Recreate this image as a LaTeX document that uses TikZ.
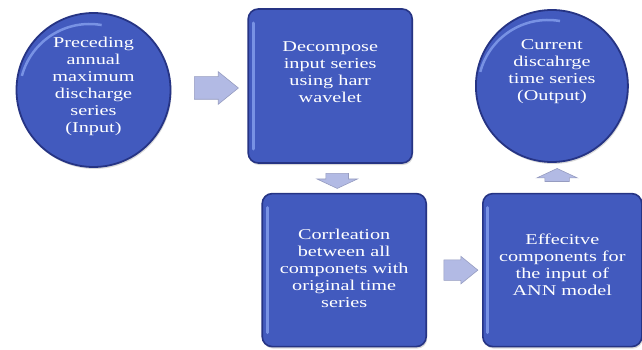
\documentclass[tikz,border=0pt]{standalone}
\usepackage{fontspec}
\setmainfont[FakeStretch=1.35]{Liberation Serif}
\usetikzlibrary{positioning,calc,shapes.arrows,shadows}
\definecolor{boxblue}{RGB}{66,90,190}
\definecolor{boxedge}{RGB}{38,52,132}
\definecolor{boxlight}{RGB}{120,146,228}
\definecolor{arrowfill}{RGB}{178,186,228}
\definecolor{arrowedge}{RGB}{150,156,192}

\begin{document}
\begin{tikzpicture}[x=1pt,y=1pt,node distance = 0pt and 0pt,
    stepbox/.style={rectangle,rounded corners=10pt,minimum width=164pt,minimum height=154pt,inner sep=0pt,
      fill=boxblue,draw=boxedge,line width=1.6pt,
      drop shadow={opacity=0.3,shadow xshift=1pt,shadow yshift=-2pt},
      path picture={\draw[boxlight,line width=3pt,line cap=round]
        ([xshift=5pt,yshift=-14pt]path picture bounding box.north west)
        -- ([xshift=5pt,yshift=14pt]path picture bounding box.south west);}},
    ball/.style={circle,minimum size=154pt,inner sep=0pt,
      fill=boxblue,draw=boxedge,line width=1.8pt,
      drop shadow={opacity=0.3,shadow xshift=1pt,shadow yshift=-2pt},
      path picture={\draw[boxlight,line width=2.5pt]
        ([xshift=-4pt,yshift=-4pt]path picture bounding box.center) ++(165:70pt) arc (165:80:70pt);}},
    celltext/.style={text=white,align=center,font=\fontsize{15}{17}\selectfont},
    blockarrow/.style={single arrow,inner sep=0pt,fill=arrowfill,draw=arrowedge,line width=0.6pt},
   ]

    \useasboundingbox (0,0) rectangle (642,-350);

    \node (input) [ball] at (93.5,-90) {};
    \node (decomp) [stepbox,right=76pt of input,shift={(0,4pt)}] {};
    \node (output) [ball,right=62pt of decomp,minimum size=152pt] {};
    \node (corr) [stepbox,below=29pt of decomp,shift={(14pt,0)},minimum height=153pt] {};
    \node (effect) [stepbox,right=55pt of corr,minimum width=159pt,minimum height=153pt] {};

    \node (inputtxt) [celltext] at ([yshift=4pt]input.center)
        {Preceding\\annual\\maximum\\discharge\\series\\(Input)};
    \node (decomptxt) [celltext] at ([yshift=14pt]decomp.center)
        {Decompose\\input series\\using harr\\wavelet};
    \node (outputtxt) [celltext] at ([yshift=14pt]output.center)
        {Current\\discahrge\\time series\\(Output)};
    \node (corrtxt) [celltext] at ([yshift=2pt]corr.center)
        {Corrleation\\between all\\componets with\\original time\\series};
    \node (effecttxt) [celltext] at ([yshift=5pt]effect.center)
        {Effecitve\\components for\\the input of\\ANN model};

    % block arrows between the steps
    \node (arr1) [blockarrow,minimum height=44pt,text height=11pt,text depth=11pt,
        single arrow head extend=5pt,single arrow tip angle=78]
        at ($(input.east)!0.5!(decomp.west)$) {};
    \node (arr2) [blockarrow,minimum height=15pt,text height=11pt,text depth=11pt,
        single arrow head extend=9pt,single arrow tip angle=130,rotate=-90]
        at ($(decomp.south)!0.5!(corr.north)$) {};
    \node (arr3) [blockarrow,minimum height=34pt,text height=10pt,text depth=10pt,
        single arrow head extend=3.5pt,single arrow tip angle=78]
        at ($(corr.east)!0.5!(effect.west)$) {};
    \node (arr4) [blockarrow,minimum height=13pt,text height=12pt,text depth=12pt,
        single arrow head extend=8pt,single arrow tip angle=130,rotate=90]
        at ($(effect.north)!0.5!(output.south)$) {};
\end{tikzpicture}
\end{document}
